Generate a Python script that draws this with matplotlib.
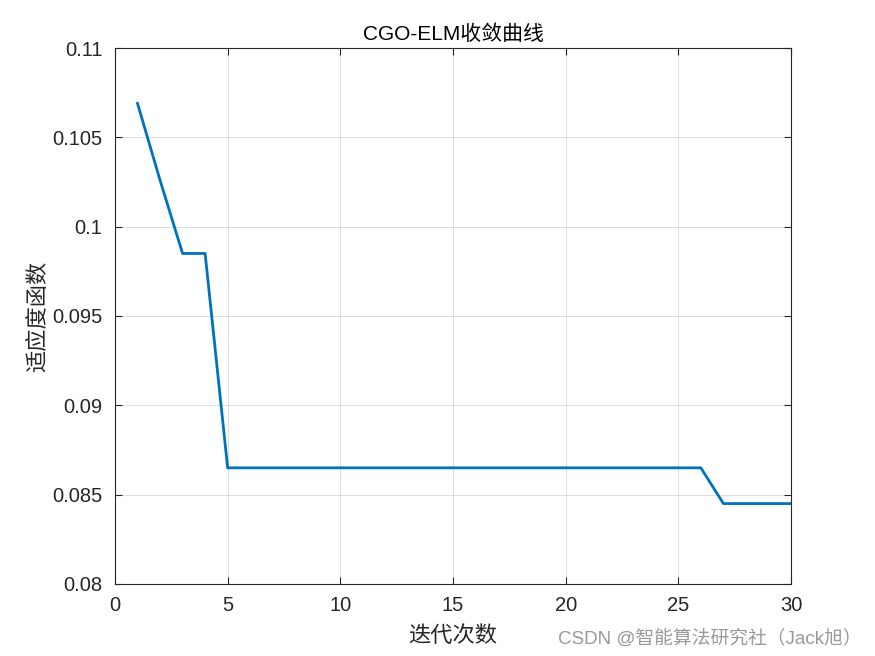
import matplotlib
matplotlib.use("Agg")
import matplotlib.pyplot as plt

plt.rcParams['font.family'] = ['Liberation Sans', 'Noto Sans CJK SC', 'DejaVu Sans']

iterations = list(range(1, 31))
fitness = [0.1069, 0.1026, 0.0985, 0.0985] + [0.0865] * 22 + [0.0845] * 4

x_ticks = [0, 5, 10, 15, 20, 25, 30]
y_ticks = [0.08, 0.085, 0.09, 0.095, 0.1, 0.105, 0.11]
y_tick_labels = ['0.08', '0.085', '0.09', '0.095', '0.1', '0.105', '0.11']

title = 'CGO-ELM收敛曲线'
xlabel = '迭代次数'
ylabel = '适应度函数'
watermark = 'CSDN @智能算法研究社（Jack旭）'

fig = plt.figure(figsize=(8.75, 6.56), dpi=100)
ax = fig.add_axes([0.1314, 0.1098, 0.7726, 0.817])
ax.plot(iterations, fitness, color='#0072BD', linewidth=2.0)
ax.set_xlim(0, 30)
ax.set_ylim(0.08, 0.11)
ax.set_xticks(x_ticks)
ax.set_yticks(y_ticks)
ax.set_yticklabels(y_tick_labels)
ax.grid(True, color='#000000', alpha=0.15, linewidth=0.6)
ax.tick_params(direction='in', top=True, right=True, labelsize=14.5, colors='#262626', length=5, width=0.8)
ax.tick_params(axis='x', pad=9)
ax.tick_params(axis='y', pad=9)
for s in ax.spines.values():
    s.set_color('#262626')
    s.set_linewidth(0.8)
ax.set_title(title, fontsize=15, color='#000000', family=['Liberation Sans', 'Noto Sans CJK SC'], pad=6)
ax.set_xlabel(xlabel, fontsize=16, color='#262626', family=['Noto Sans CJK SC'], labelpad=6)
ax.set_ylabel(ylabel, fontsize=16, color='#262626', family=['Noto Sans CJK SC'], labelpad=2)
fig.text(0.985, 0.012, watermark, ha='right', va='bottom', fontsize=13.5, color='#999999',
         family=['Liberation Sans', 'Noto Sans CJK SC'])
fig.savefig('out.png', dpi=100, facecolor='white')
